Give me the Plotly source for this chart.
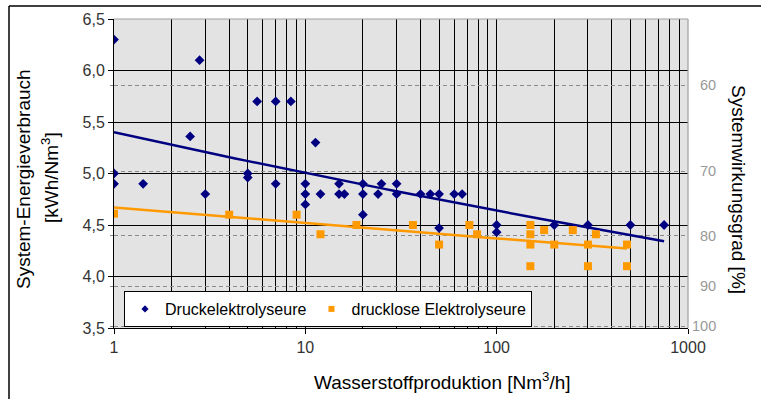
import numpy as np
import plotly.graph_objects as go

# ---- data ----
druck_x = [1, 1, 1, 1.42, 2.5, 2.8, 3, 5, 5, 5.6, 7, 7, 8.4, 10, 10, 10, 11.3, 12,
           15, 15, 16, 20, 20, 20, 24, 25, 30, 30, 40, 45, 50, 50, 60, 66,
           100, 100, 200, 300, 500, 750]
druck_y = [6.3, 5.0, 4.9, 4.9, 5.36, 6.1, 4.8, 5.0, 4.96, 5.7, 5.7, 4.9, 5.7, 4.9, 4.8, 4.7, 5.3, 4.8,
           4.9, 4.8, 4.8, 4.9, 4.8, 4.6, 4.8, 4.9, 4.9, 4.8, 4.8, 4.8, 4.8, 4.47, 4.8, 4.8,
           4.5, 4.43, 4.5, 4.5, 4.5, 4.5]

drucklos_x = [1, 4, 9, 12, 18.5, 36.5, 50, 72, 79, 150, 150, 150, 150, 177, 200,
              250, 300, 300, 330, 480, 480]
drucklos_y = [4.61, 4.6, 4.6, 4.41, 4.5, 4.5, 4.31, 4.5, 4.41, 4.5, 4.41, 4.31, 4.1, 4.45, 4.31,
              4.45, 4.31, 4.1, 4.41, 4.31, 4.1]

x_tick_vals = [1, 10, 100, 1000]
x_tick_text = ["1", "10", "100", "1000"]
y_tick_vals = [3.5, 4.0, 4.5, 5.0, 5.5, 6.0, 6.5]
eff_ticks = [60, 70, 80, 90, 100]          # Systemwirkungsgrad [%]
H2_energy = 3.515                           # kWh/Nm3 at 100 % efficiency

NAVY = "#000080"
ORANGE = "#FF9900"
FONT = "Liberation Sans, Arial, sans-serif"


def power_trend(x, y):
    """Power-law trend line y = a * x^b (fitted in log-log space)."""
    lx = np.log(np.asarray(x, float))
    ly = np.log(np.asarray(y, float))
    b, ln_a = np.polyfit(lx, ly, 1)
    xs = np.exp(np.linspace(lx.min(), lx.max(), 60))
    return xs, np.exp(ln_a) * xs ** b


fig = go.Figure()

tx, ty = power_trend(druck_x, druck_y)
fig.add_trace(go.Scatter(x=tx, y=ty, mode="lines", line=dict(color=NAVY, width=2.5),
                         showlegend=False, hoverinfo="skip"))
tx, ty = power_trend(drucklos_x, drucklos_y)
fig.add_trace(go.Scatter(x=tx, y=ty, mode="lines", line=dict(color=ORANGE, width=2.5),
                         showlegend=False, hoverinfo="skip"))

fig.add_trace(go.Scatter(x=druck_x, y=druck_y, mode="markers", showlegend=False,
                         marker=dict(symbol="diamond", size=7.5, color=NAVY, line=dict(width=0))))
fig.add_trace(go.Scatter(x=drucklos_x, y=drucklos_y, mode="markers", showlegend=False,
                         marker=dict(symbol="square", size=8, color=ORANGE, line=dict(width=0))))

# legend entries (small symbols as in the reference)
fig.add_trace(go.Scatter(x=[None], y=[None], mode="markers", name="Druckelektrolyseure",
                         marker=dict(symbol="diamond", size=5.5, color=NAVY, line=dict(width=0))))
fig.add_trace(go.Scatter(x=[None], y=[None], mode="markers", name="drucklose Elektrolyseure",
                         marker=dict(symbol="square", size=6, color=ORANGE, line=dict(width=0))))

minor_x = [m * 10 ** d for d in range(3) for m in range(2, 10)]
eff_pos = [H2_energy / (p / 100.0) for p in eff_ticks]

L, R, T, B = 114, 73, 19, 71
W, H = 761, 399
pw, ph = W - L - R, H - T - B


def px(xp):
    return (xp - L) / pw


def py(yp):
    return (H - B - yp) / ph


fig.update_layout(
    width=W, height=H,
    margin=dict(l=L, r=R, t=T, b=B),
    paper_bgcolor="white",
    plot_bgcolor="#E3E3E3",
    separators=",.",
    font=dict(family=FONT, size=16, color="#333333"),
    xaxis=dict(
        type="log", range=[0, 3],
        tickvals=x_tick_vals, ticktext=x_tick_text,
        ticks="outside", ticklen=5, tickcolor="black", tickwidth=1,
        showline=True, linecolor="black", linewidth=1,
        showgrid=True, gridcolor="black", gridwidth=1,
        minor=dict(tickvals=minor_x, showgrid=True, gridcolor="black", gridwidth=1, ticks=""),
        tickfont=dict(size=16, color="#333333"),
        zeroline=False,
    ),
    yaxis=dict(
        range=[3.5, 6.5],
        tickvals=y_tick_vals, tickformat=".1f",
        ticks="outside", ticklen=5, tickcolor="black", tickwidth=1,
        showline=True, linecolor="black", linewidth=1,
        showgrid=True, gridcolor="black", gridwidth=1,
        minor=dict(tickvals=eff_pos, showgrid=True, gridcolor="#8a8a8a", gridwidth=1.3,
                   griddash="4px,3px", ticks="outside", ticklen=3, tickcolor="#8a8a8a"),
        tickfont=dict(size=16, color="#333333"),
        zeroline=False,
    ),
    legend=dict(
        orientation="h", x=px(124), y=py(291), xanchor="left", yanchor="top",
        bgcolor="white", bordercolor="black", borderwidth=1,
        font=dict(size=16, color="black"), itemwidth=30, tracegroupgap=0,
    ),
    showlegend=True,
)

annotations = [
    dict(text="System-Energieverbrauch", x=px(23), y=py(179), xref="paper", yref="paper",
         textangle=-90, showarrow=False, font=dict(size=19, color="black"),
         xanchor="center", yanchor="middle"),
    dict(text="[kWh/Nm<sup>3</sup>]", x=px(50), y=py(178), xref="paper", yref="paper",
         textangle=-90, showarrow=False, font=dict(size=19, color="black"),
         xanchor="center", yanchor="middle"),
    dict(text="Systemwirkungsgrad [%]", x=px(739), y=py(189), xref="paper", yref="paper",
         textangle=90, showarrow=False, font=dict(size=19, color="black"),
         xanchor="center", yanchor="middle"),
    dict(text="Wasserstoffproduktion [Nm<sup>3</sup>/h]", x=px(442), y=py(381),
         xref="paper", yref="paper", showarrow=False, font=dict(size=19, color="black"),
         xanchor="center", yanchor="middle"),
]
for p, yv in zip(eff_ticks, eff_pos):
    annotations.append(dict(text=str(p), x=px(718), y=yv, xref="paper", yref="y",
                            showarrow=False, xanchor="right", yanchor="middle",
                            font=dict(size=14.5, color="#999999")))
fig.update_layout(annotations=annotations)

shapes = [
    # grey plot-area frame on top and right
    dict(type="line", xref="paper", yref="paper", x0=0, x1=1, y0=1, y1=1,
         line=dict(color="#A0A0A0", width=1.2), layer="above"),
    dict(type="line", xref="paper", yref="paper", x0=1, x1=1, y0=0, y1=1,
         line=dict(color="#A0A0A0", width=1.2), layer="above"),
    # outer chart frame (top and left edges)
    dict(type="line", xref="paper", yref="paper", x0=px(9), x1=px(W + 5), y0=py(6), y1=py(6),
         line=dict(color="black", width=1.5)),
    dict(type="line", xref="paper", yref="paper", x0=px(9), x1=px(9), y0=py(6), y1=py(H + 5),
         line=dict(color="black", width=1.5)),
]
fig.update_layout(shapes=shapes)

fig.write_html("out.html")
